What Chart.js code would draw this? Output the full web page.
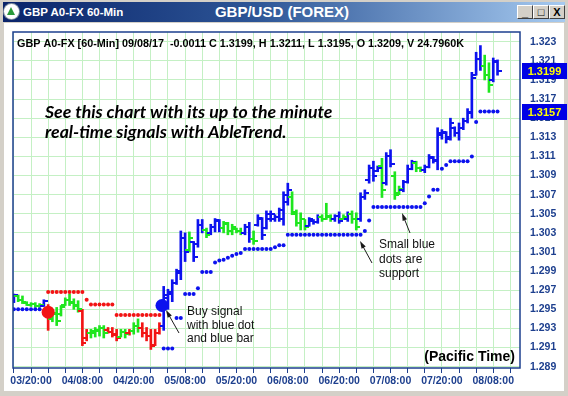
<!DOCTYPE html>
<html>
<head>
<meta charset="utf-8">
<script src="https://cdn.jsdelivr.net/npm/chart.js@4.4.0/dist/chart.umd.min.js"></script>
<style>
  html, body { margin: 0; padding: 0; }
  body { width: 568px; height: 396px; position: relative; overflow: hidden; background: #d4d0c8; font-family: "Liberation Sans", Arial, sans-serif; }
  #client { position: absolute; left: 4px; top: 23px; width: 560px; height: 368px; background: #fff; }
  #titlebar { position: absolute; left: 3px; top: 2px; width: 562px; height: 20px;
    background: linear-gradient(to right, #0a246a 0%, #2d5596 45%, #a6caf0 100%); }
  #icon { position: absolute; left: 1px; top: 2px; width: 15px; height: 15px; border-radius: 50%; background: #fff; box-shadow: 0 0 0 1px #8090a0; }
  #icon:after { content: ""; position: absolute; left: 3px; top: 3px; border-left: 4.5px solid transparent; border-right: 4.5px solid transparent; border-bottom: 8px solid #2a9a3a; }
  #wintitle { position: absolute; left: 20px; top: 3px; color: #fff; font: bold 11.5px "Liberation Sans", Arial, sans-serif; line-height: 14px; }
  #charttitle { position: absolute; left: 0; width: 558px; top: 1px; text-align: center; color: #fff; font: bold 15px "Liberation Sans", Arial, sans-serif; line-height: 18px; }
  .btn { position: absolute; top: 3px; width: 14px; height: 12px; background: #d4d0c8;
    border-top: 1px solid #fff; border-left: 1px solid #fff; border-right: 1px solid #404040; border-bottom: 1px solid #404040;
    font: bold 11px "Liberation Sans", Arial, sans-serif; line-height: 12px; text-align: center; color: #000; }
  #chart { position: absolute; left: 0; top: 0; }
</style>
</head>
<body>
<div id="client"></div>
<div id="titlebar">
  <div id="icon"></div>
  <div id="wintitle">GBP A0-FX 60-Min</div>
  <div id="charttitle">GBP/USD (FOREX)</div>
  <div class="btn" style="left:514px">_</div>
  <div class="btn" style="left:530px">&#9633;</div>
  <div class="btn" style="left:546px">X</div>
</div>
<canvas id="chart" width="568" height="396"></canvas>
<script>
// hourly bars, x = hours since 03 00:00 (Pacific)
const firstHour = 16;
const barOpen = [
  1.2958, 1.2964, 1.2960, 1.2957, 1.2955, 1.2956, 1.2954, 1.2954, 1.2950, 1.2940,
  1.2945, 1.2945, 1.2955, 1.2960, 1.2958, 1.2955, 1.2948, 1.2920, 1.2925, 1.2925,
  1.2927, 1.2930, 1.2928, 1.2926, 1.2924, 1.2921, 1.2926, 1.2925, 1.2927, 1.2933,
  1.2930, 1.2925, 1.2922, 1.2913, 1.2925, 1.2933, 1.2962, 1.2966, 1.2978, 1.2988,
  1.3025, 1.3012, 1.3020, 1.3018, 1.3038, 1.3033, 1.3030, 1.3036, 1.3042, 1.3035,
  1.3039, 1.3032, 1.3034, 1.3032, 1.3030, 1.3036, 1.3024, 1.3038, 1.3045, 1.3035,
  1.3045, 1.3045, 1.3047, 1.3045, 1.3062, 1.3068, 1.3050, 1.3040, 1.3044, 1.3037,
  1.3042, 1.3041, 1.3047, 1.3045, 1.3047, 1.3044, 1.3048, 1.3045, 1.3045, 1.3050,
  1.3044, 1.3044, 1.3068, 1.3085, 1.3098, 1.3095, 1.3100, 1.3082, 1.3110, 1.3090,
  1.3072, 1.3075, 1.3083, 1.3097, 1.3103, 1.3098, 1.3096, 1.3099, 1.3108, 1.3105,
  1.3132, 1.3134, 1.3130, 1.3140, 1.3134, 1.3140, 1.3147, 1.3155, 1.3195, 1.3212,
  1.3205, 1.3195, 1.3190, 1.3209
];
const barHigh = [
  1.2966, 1.2965, 1.2964, 1.2958, 1.2957, 1.2957, 1.2956, 1.2960, 1.2955, 1.2950,
  1.2952, 1.2954, 1.2962, 1.2966, 1.2961, 1.2959, 1.2950, 1.2929, 1.2929, 1.2931,
  1.2933, 1.2933, 1.2931, 1.2931, 1.2929, 1.2929, 1.2929, 1.2929, 1.2936, 1.2940,
  1.2936, 1.2931, 1.2929, 1.2929, 1.2936, 1.2974, 1.2971, 1.2981, 1.2992, 1.3032,
  1.3030, 1.3031, 1.3021, 1.3044, 1.3044, 1.3035, 1.3039, 1.3045, 1.3044, 1.3042,
  1.3041, 1.3039, 1.3035, 1.3035, 1.3039, 1.3041, 1.3032, 1.3049, 1.3046, 1.3053,
  1.3053, 1.3049, 1.3056, 1.3073, 1.3082, 1.3073, 1.3054, 1.3051, 1.3044, 1.3046,
  1.3044, 1.3049, 1.3049, 1.3061, 1.3049, 1.3049, 1.3052, 1.3049, 1.3052, 1.3053,
  1.3051, 1.3072, 1.3075, 1.3101, 1.3105, 1.3100, 1.3108, 1.3114, 1.3117, 1.3094,
  1.3079, 1.3085, 1.3101, 1.3106, 1.3105, 1.3099, 1.3101, 1.3112, 1.3110, 1.3140,
  1.3138, 1.3136, 1.3150, 1.3141, 1.3145, 1.3150, 1.3160, 1.3198, 1.3219, 1.3226,
  1.3216, 1.3208, 1.3213, 1.3211
];
const barLow = [
  1.2957, 1.2958, 1.2956, 1.2954, 1.2953, 1.2952, 1.2952, 1.2953, 1.2928, 1.2937,
  1.2933, 1.2943, 1.2954, 1.2954, 1.2950, 1.2947, 1.2912, 1.2917, 1.2920, 1.2921,
  1.2922, 1.2920, 1.2925, 1.2921, 1.2917, 1.2921, 1.2920, 1.2923, 1.2924, 1.2926,
  1.2921, 1.2917, 1.2908, 1.2912, 1.2924, 1.2928, 1.2950, 1.2958, 1.2976, 1.2981,
  1.3000, 1.3010, 1.3000, 1.3015, 1.3030, 1.3025, 1.3028, 1.3031, 1.3031, 1.3030,
  1.3028, 1.3028, 1.3030, 1.3028, 1.3028, 1.3020, 1.3018, 1.3037, 1.3023, 1.3034,
  1.3042, 1.3042, 1.3042, 1.3038, 1.3059, 1.3049, 1.3037, 1.3033, 1.3033, 1.3037,
  1.3039, 1.3040, 1.3042, 1.3044, 1.3042, 1.3042, 1.3040, 1.3044, 1.3042, 1.3040,
  1.3033, 1.3042, 1.3065, 1.3082, 1.3084, 1.3094, 1.3067, 1.3080, 1.3099, 1.3065,
  1.3070, 1.3073, 1.3082, 1.3096, 1.3094, 1.3094, 1.3093, 1.3098, 1.3103, 1.3096,
  1.3128, 1.3124, 1.3127, 1.3131, 1.3127, 1.3138, 1.3145, 1.3150, 1.3195, 1.3200,
  1.3190, 1.3177, 1.3188, 1.3195
];
const barClose = [
  1.2965, 1.2960, 1.2958, 1.2955, 1.2956, 1.2954, 1.2955, 1.2959, 1.2940, 1.2946,
  1.2938, 1.2952, 1.2960, 1.2957, 1.2953, 1.2950, 1.2915, 1.2925, 1.2927, 1.2928,
  1.2930, 1.2925, 1.2926, 1.2923, 1.2920, 1.2926, 1.2924, 1.2927, 1.2933, 1.2930,
  1.2925, 1.2922, 1.2912, 1.2925, 1.2933, 1.2965, 1.2968, 1.2978, 1.2990, 1.3025,
  1.3010, 1.3025, 1.3005, 1.3038, 1.3033, 1.3028, 1.3036, 1.3043, 1.3035, 1.3040,
  1.3032, 1.3036, 1.3032, 1.3030, 1.3036, 1.3024, 1.3021, 1.3046, 1.3028, 1.3050,
  1.3050, 1.3047, 1.3054, 1.3070, 1.3075, 1.3052, 1.3040, 1.3045, 1.3036, 1.3044,
  1.3041, 1.3047, 1.3044, 1.3048, 1.3045, 1.3048, 1.3042, 1.3047, 1.3050, 1.3044,
  1.3036, 1.3068, 1.3072, 1.3098, 1.3090, 1.3098, 1.3075, 1.3110, 1.3102, 1.3070,
  1.3076, 1.3083, 1.3097, 1.3104, 1.3098, 1.3096, 1.3099, 1.3109, 1.3106, 1.3135,
  1.3136, 1.3128, 1.3145, 1.3134, 1.3140, 1.3147, 1.3157, 1.3192, 1.3212, 1.3205,
  1.3195, 1.3185, 1.3210, 1.3199
];
// b = up trend (blue), g = neutral (green), r = down trend (red)
const barTrend = ("b gggggg b r ggggggg rr gggg rrr gg r gg rrrrr bbbbbb g bbb g bbb ggggg bb g " +
  "bbbbbbbb gggg bbb ggg bb g b gg bbbbb g bb gg bbb gg bbbbbbbbbbbbbb gg bb").replace(/ /g, "").split("");

// small blue support dots
const supportHours = [16, 17, 18, 19, 20, 21, 22,
  51, 52, 53, 54, 55, 56, 57, 58, 59, 60, 61, 62, 63, 64, 65, 66, 67, 68, 69, 70,
  71, 72, 73, 74, 75, 76, 77, 78, 79, 80, 81, 82, 83, 84, 85, 86, 87, 88, 89, 90,
  91, 92, 93, 94, 95, 96, 97, 98, 99, 100, 101, 102, 103, 104, 105, 106, 107, 108, 109, 110,
  111, 112, 113, 114, 115, 116, 117, 118, 119, 120, 121, 122, 123, 124, 125, 126, 127, 128, 129];
const supportValues = [1.2950, 1.2950, 1.2950, 1.2950, 1.2950, 1.2950, 1.2950,
  1.2909, 1.2909, 1.2909, 1.2941, 1.2941, 1.2966, 1.2966, 1.2966, 1.2972, 1.2989, 1.2989, 1.2989, 1.2999, 1.3001,
  1.3002, 1.3004, 1.3006, 1.3008, 1.3009, 1.3013, 1.3013, 1.3013, 1.3013, 1.3013, 1.3013, 1.3013, 1.3015, 1.3017,
  1.3017, 1.3028, 1.3028, 1.3028, 1.3028, 1.3028, 1.3028, 1.3028, 1.3028, 1.3028, 1.3028, 1.3028, 1.3028, 1.3028,
  1.3028, 1.3028, 1.3028, 1.3028, 1.3028, 1.3032, 1.3043, 1.3057, 1.3057, 1.3057, 1.3057, 1.3057, 1.3057, 1.3057,
  1.3057, 1.3057, 1.3057, 1.3057, 1.3057, 1.3061, 1.3068, 1.3075, 1.3075, 1.3097, 1.3101, 1.3105, 1.3105, 1.3105,
  1.3105, 1.3105, 1.3110, 1.3146, 1.3157, 1.3157, 1.3157, 1.3157, 1.3157];

// small red resistance dots
const resistHours = [24, 25, 26, 27, 28, 29, 30, 31, 32, 33, 34, 35, 36, 37, 38, 39,
  40, 41, 42, 43, 44, 45, 46, 47, 48, 49, 50];
const resistValues = [1.2968, 1.2968, 1.2968, 1.2968, 1.2968, 1.2968, 1.2968, 1.2968, 1.2968, 1.2960,
  1.2955, 1.2955, 1.2955, 1.2955, 1.2955, 1.2955,
  1.2944, 1.2944, 1.2944, 1.2944, 1.2944, 1.2944, 1.2944, 1.2944, 1.2944, 1.2944, 1.2944];

// big signal dots
const signalHours = [24, 50.6];
const signalValues = [1.2947, 1.2954];
const signalTrend = ["r", "b"];

const tickHours = [20, 32, 44, 56, 68, 80, 92, 104, 116, 128];
const tickLabels = ["03/20:00", "04/08:00", "04/20:00", "05/08:00", "05/20:00",
  "06/08:00", "06/20:00", "07/08:00", "07/20:00", "08/08:00"];
const priceTicks = [1.289, 1.291, 1.293, 1.295, 1.297, 1.299, 1.301, 1.303, 1.305,
  1.307, 1.309, 1.311, 1.313, 1.315, 1.317, 1.319, 1.321, 1.323];

const headerText = "GBP A0-FX [60-Min] 09/08/17  -0.0011 C 1.3199, H 1.3211, L 1.3195, O 1.3209, V 24.7960K";

const colors = { b: "#0c12ee", g: "#1ee61e", r: "#f21414" };
const axisBlue = "#1d3f8e";
const barHours = barOpen.map((_, i) => firstHour + i);

function tickImage(color, side) {
  const c = document.createElement("canvas");
  c.width = 8; c.height = 2;
  const g = c.getContext("2d");
  g.fillStyle = color;
  g.fillRect(side === "open" ? 0 : 4, 0, 4, 2);
  return c;
}
const openImg = {}, closeImg = {};
for (const k in colors) {
  openImg[k] = tickImage(colors[k], "open");
  closeImg[k] = tickImage(colors[k], "close");
}

function arrow(ctx, x1, y1, x2, y2) {
  const a = Math.atan2(y2 - y1, x2 - x1);
  ctx.strokeStyle = "#1a1a1a";
  ctx.fillStyle = "#1a1a1a";
  ctx.lineWidth = 1;
  ctx.beginPath();
  ctx.moveTo(x1, y1);
  ctx.lineTo(x2 - 5 * Math.cos(a), y2 - 5 * Math.sin(a));
  ctx.stroke();
  ctx.beginPath();
  ctx.moveTo(x2, y2);
  ctx.lineTo(x2 - 8 * Math.cos(a - 0.3), y2 - 8 * Math.sin(a - 0.3));
  ctx.lineTo(x2 - 8 * Math.cos(a + 0.3), y2 - 8 * Math.sin(a + 0.3));
  ctx.closePath();
  ctx.fill();
}

const notes = {
  id: "notes",
  afterDatasetsDraw(chart) {
    const { ctx, chartArea: a } = chart;
    ctx.save();
    ctx.strokeStyle = axisBlue;
    ctx.lineWidth = 1.5;
    ctx.strokeRect(a.left, a.top, a.right - a.left, a.bottom - a.top);

    ctx.fillStyle = "#000";
    ctx.textAlign = "left";
    ctx.textBaseline = "alphabetic";
    ctx.font = 'bold 10.8px "Liberation Sans", Arial, sans-serif';
    ctx.fillText(headerText, 17, 46.5);

    ctx.font = 'italic bold 17.7px Lato, "Open Sans", sans-serif';
    ctx.fillText("See this chart with its up to the minute", 45, 118);
    ctx.fillText("real-time signals with AbleTrend.", 45, 138);

    ctx.fillStyle = "#111";
    ctx.font = '12px "Liberation Sans", Arial, sans-serif';
    ["Buy signal", "with blue dot", "and blue bar"].forEach((t, i) => ctx.fillText(t, 187, 315 + i * 13.5));
    ["Small blue", "dots are", "support"].forEach((t, i) => ctx.fillText(t, 379, 248 + i * 14.5));
    arrow(ctx, 179, 333, 166, 310);
    arrow(ctx, 372, 263, 360, 241);
    arrow(ctx, 410, 233, 402, 213);

    ctx.fillStyle = "#000";
    ctx.font = 'bold 14px "Liberation Sans", Arial, sans-serif';
    ctx.textAlign = "right";
    ctx.fillText("(Pacific Time)", 515, 361);
    ctx.restore();
  },
  afterDraw(chart) {
    const { ctx, chartArea: a, scales: { y } } = chart;
    const last = barClose.length - 1;
    const boxes = [barClose[last], supportValues[supportValues.length - 1]];
    ctx.save();
    ctx.font = 'bold 11px "Liberation Sans", Arial, sans-serif';
    ctx.textAlign = "center";
    ctx.textBaseline = "middle";
    boxes.forEach(v => {
      const py = y.getPixelForValue(v);
      ctx.fillStyle = "#0000e6";
      ctx.fillRect(a.right + 2, Math.round(py) - 8, 45, 16);
      ctx.fillStyle = "#ffff00";
      ctx.fillText(v.toFixed(4), a.right + 24.5, Math.round(py) + 0.5);
    });
    ctx.restore();
  }
};

new Chart(document.getElementById("chart"), {
  type: "bar",
  data: {
    datasets: [
      {
        type: "scatter",
        data: signalHours.map((h, i) => ({ x: h, y: signalValues[i] })),
        pointRadius: 6.5,
        pointBackgroundColor: signalTrend.map(t => colors[t]),
        pointBorderWidth: 0,
        order: 0
      },
      {
        type: "scatter",
        data: supportHours.map((h, i) => ({ x: h, y: supportValues[i] })),
        pointRadius: 2,
        pointBackgroundColor: colors.b,
        pointBorderWidth: 0,
        order: 1
      },
      {
        type: "scatter",
        data: resistHours.map((h, i) => ({ x: h, y: resistValues[i] })),
        pointRadius: 2,
        pointBackgroundColor: colors.r,
        pointBorderWidth: 0,
        order: 1
      },
      {
        type: "scatter",
        data: barHours.map((h, i) => ({ x: h, y: barOpen[i] })),
        pointRadius: 3,
        pointStyle: ctx => openImg[barTrend[ctx.dataIndex]],
        order: 2
      },
      {
        type: "scatter",
        data: barHours.map((h, i) => ({ x: h, y: barClose[i] })),
        pointRadius: 3,
        pointStyle: ctx => closeImg[barTrend[ctx.dataIndex]],
        order: 2
      },
      {
        type: "bar",
        data: barHours.map((h, i) => ({ x: h, y: [barLow[i], barHigh[i]] })),
        backgroundColor: barTrend.map(t => colors[t]),
        barThickness: 2,
        borderWidth: 0,
        order: 3
      }
    ]
  },
  options: {
    responsive: false,
    animation: false,
    events: [],
    layout: { padding: { left: 13, top: 32, right: 0, bottom: 0 }, autoPadding: false },
    plugins: { legend: { display: false }, tooltip: { enabled: false } },
    scales: {
      x: {
        type: "linear",
        min: 15.79,
        max: 134.25,
        offset: false,
        grid: { offset: false, color: "#c4f0c4", tickColor: axisBlue, tickLength: 5, drawTicks: true },
        border: { display: false },
        afterBuildTicks: s => {
          const t = [];
          for (let h = 16; h <= 132; h += 4) t.push({ value: h });
          s.ticks = t;
        },
        afterFit: s => { s.height = 28; },
        ticks: {
          autoSkip: false,
          maxRotation: 0,
          padding: 2,
          color: axisBlue,
          font: { family: '"Liberation Sans", Arial, sans-serif', size: 10.5, weight: "bold" },
          callback: v => {
            const i = tickHours.indexOf(v);
            return i >= 0 ? tickLabels[i] : "";
          }
        }
      },
      y: {
        type: "linear",
        position: "right",
        min: 1.28886,
        max: 1.32402,
        beginAtZero: false,
        grid: { color: "#c4f0c4", drawTicks: false },
        border: { display: false },
        afterBuildTicks: s => { s.ticks = priceTicks.map(v => ({ value: v })); },
        afterFit: s => { s.width = 48; },
        ticks: {
          padding: 10,
          color: axisBlue,
          font: { family: '"Liberation Sans", Arial, sans-serif', size: 10.5, weight: "bold" },
          callback: v => v.toFixed(3)
        }
      }
    }
  },
  plugins: [notes]
});
</script>
</body>
</html>
